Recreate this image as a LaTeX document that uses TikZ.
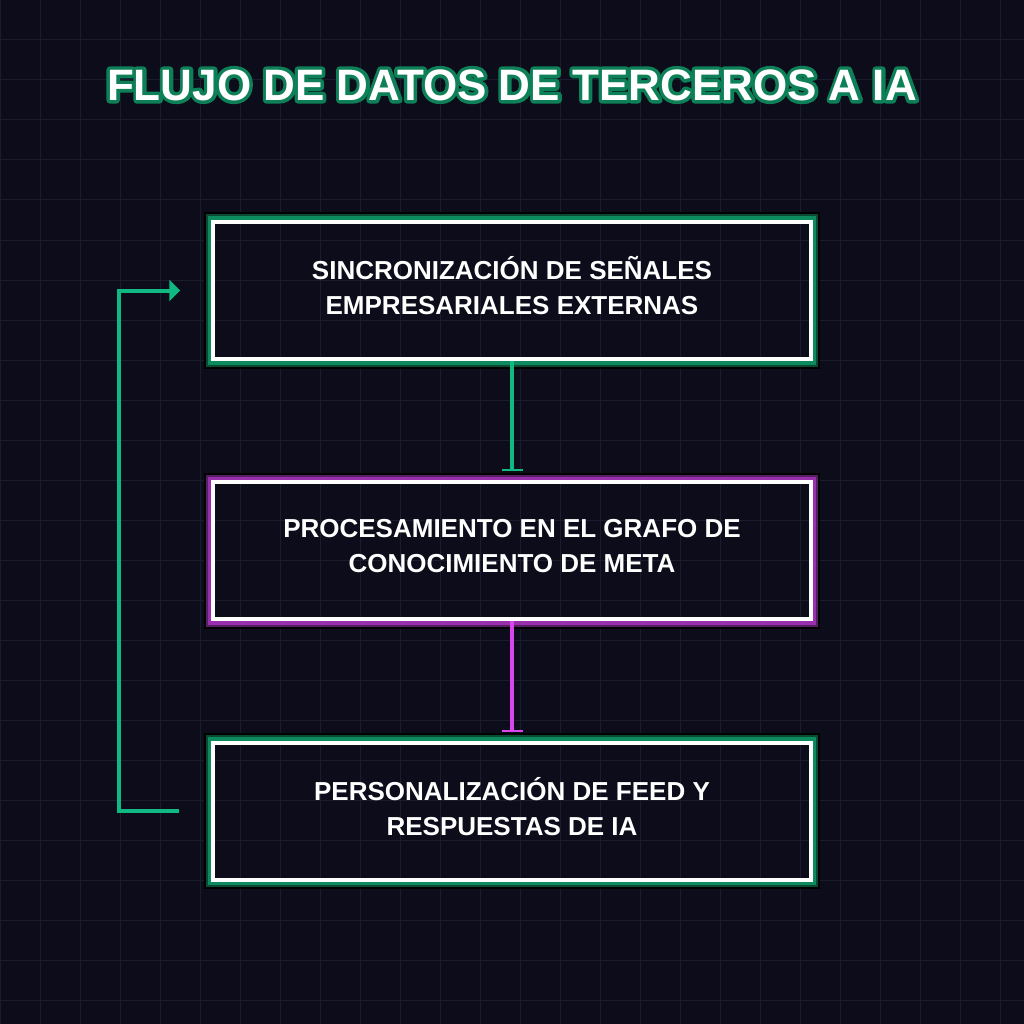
\documentclass[tikz,border=0pt]{standalone}
\usepackage{fontspec}
\setmainfont{Liberation Sans}
\usepackage{tikz}
\usetikzlibrary{arrows.meta,positioning,calc}
\definecolor{bg}{HTML}{0C0C1A}
\definecolor{gridc}{HTML}{1C1C2F}
\definecolor{emer}{HTML}{10B981}
\definecolor{emerglow}{HTML}{0E8A5F}
\definecolor{emerdark}{HTML}{0A4A34}
\definecolor{mag}{HTML}{D946EF}
\definecolor{magglow}{HTML}{9A2FAE}
\definecolor{magdark}{HTML}{561E63}
% outlined text (stroke + fill)
\newcommand{\glowtext}[1]{\special{pdf:literal direct 1 j 7 w 0.05 0.50 0.34 RG 2 Tr}#1\special{pdf:literal direct 0 Tr}}

\begin{document}
\begin{tikzpicture}[x=1pt, y=-1pt,
  gridline/.style={gridc, line width=1pt},
  n/.style={draw=white, line width=4pt, minimum width=597.5pt, minimum height=137pt,
    align=center, text=white, inner sep=0pt, font=\bfseries\fontsize{26}{35}\selectfont,
    execute at end node={\rule[-10pt]{0pt}{10pt}}},
  ttl/.style={font=\bfseries\fontsize{44}{48}\selectfont},
  arr/.style={line width=4pt, -{Bar[width=21pt, line width=2pt]}, shorten >=9pt},
  fb/.style={emer, line width=4pt, -{Triangle[length=11pt, width=21pt]}}
]
\fill[bg] (0,0) rectangle (1024,1024);
\useasboundingbox (0,0) rectangle (1024,1024);
\foreach \i in {0,40,...,1000} {
  \draw[gridline] (\i,0) -- (\i,1024);
  \draw[gridline] (0,\i) -- (1024,\i);
}

% title with outline
\node[ttl, text=emerglow] (glow) at (512,85) {\glowtext{FLUJO DE DATOS DE TERCEROS A IA}};
\node[ttl, text=white] (title) at (glow) {FLUJO DE DATOS DE TERCEROS A IA};

\node[n] (sync) at (512,290.5) {SINCRONIZACIÓN DE SEÑALES\\EMPRESARIALES EXTERNAS};
\node[n] (graph) at (512,550.5) {PROCESAMIENTO EN EL GRAFO DE\\CONOCIMIENTO DE META};
\node[n] (feed) at (512,811) {PERSONALIZACIÓN DE FEED Y\\RESPUESTAS DE IA};

% glow frames
\foreach \b/\c/\d in {sync/emerglow/emerdark, graph/magglow/magdark, feed/emerglow/emerdark} {
  \draw[black, line width=2pt] ($(\b.north west)+(-6.5,-6.5)$) rectangle ($(\b.south east)+(6.5,6.5)$);
  \draw[\d, line width=2pt] ($(\b.north west)+(-4.5,-4.5)$) rectangle ($(\b.south east)+(4.5,4.5)$);
  \draw[\c, line width=3.5pt] ($(\b.north west)+(-1.75,-1.75)$) rectangle ($(\b.south east)+(1.75,1.75)$);
}

\draw[arr, emer] (sync) -- (graph);
\draw[arr, mag] (graph) -- (feed);
\draw[fb] ([xshift=-32pt]feed.west) -- ++(-60,0) |- ([xshift=-31pt]sync.west);
\end{tikzpicture}
\end{document}
